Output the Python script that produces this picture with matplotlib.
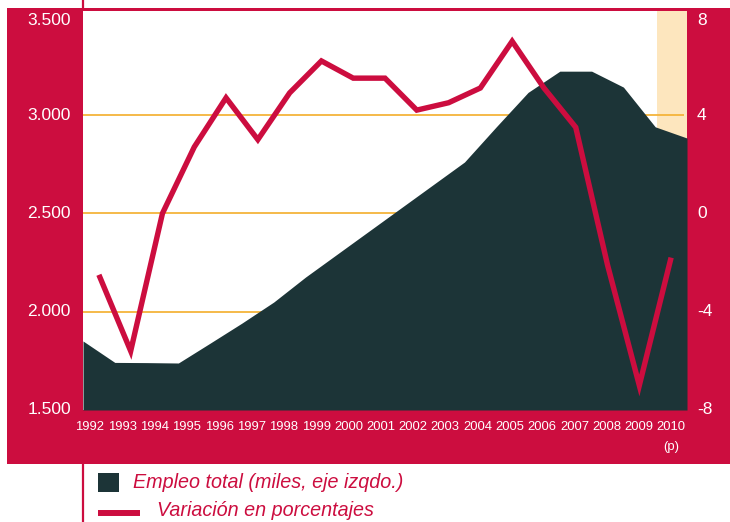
import matplotlib
matplotlib.use("Agg")
import matplotlib.pyplot as plt
import numpy as np
from matplotlib.patches import Rectangle
from matplotlib.lines import Line2D
from matplotlib.transforms import offset_copy, blended_transform_factory

# datos
anios = [str(a) for a in range(1992, 2011)]
variacion = [-2.5, -5.6, 0.0, 2.7, 4.7, 3.0, 4.9, 6.2, 5.5, 5.5,
             4.2, 4.5, 5.1, 7.0, 5.1, 3.5, -2.1, -7.0, -1.8]
# empleo total (miles), un valor en cada borde de año
empleo = [1851, 1742, 1741, 1739, 1840, 1942, 2049, 2176, 2293, 2410,
          2527, 2644, 2761, 2940, 3115, 3223, 3223, 3142, 2940, 2883]
ticks_izq = [1500, 2000, 2500, 3000, 3500]
ticks_der = [-8, -4, 0, 4, 8]
rejilla = [2000, 2500, 3000]

rojo = "#CC0D3F"
verde = "#1C3437"
naranja = "#FDE6BE"
oro = "#F5B43A"
familia = ["Liberation Sans", "DejaVu Sans"]

W, H = 730, 522
fig = plt.figure(figsize=(W / 100, H / 100), dpi=100)

# fondo rojo y linea vertical
fig.add_artist(Line2D([83 / W, 83 / W], [0, 1], transform=fig.transFigure,
                      color=rojo, lw=1.6, zorder=-3))
fig.add_artist(Rectangle((7 / W, 58 / H), 1, 456 / H, transform=fig.transFigure,
                         color=rojo, lw=0, zorder=-2))

ax = fig.add_axes([83 / W, 112 / H, 604 / W, 399 / H])
ax.set_xlim(-0.5, 18.5)
ax.set_ylim(1500, 3529)
for s in ax.spines.values():
    s.set_visible(False)

# prevision 2010
ax.axvspan(17.55, 18.5, color=naranja, lw=0, zorder=0)
ax.hlines(rejilla, -0.5, 18.4, color=oro, lw=1.3, zorder=1)

x_emp = np.arange(len(empleo)) - 0.5
ax.fill_between(x_emp, 1500, empleo, color=verde, lw=0, zorder=2)

etiquetas = anios[:-1] + [anios[-1] + "\n(p)"]
pos = np.arange(len(anios)) * 1.016 - 0.28
ax.set_xticks(pos, etiquetas)
ax.tick_params(axis="x", length=0, pad=8, labelcolor="white", labelsize=9.4)
for t in ax.get_xticklabels():
    t.set_family(familia)
    t.set_linespacing(1.9)
ax.set_yticks([])

ax2 = ax.twinx()
ax2.set_ylim(-8, -8 + (3529 - 1500) * 16 / 2000)
ax2.set_xlim(-0.5, 18.5)
for s in ax2.spines.values():
    s.set_visible(False)
ax2.set_yticks([])
ax2.plot(range(len(variacion)), variacion, color=rojo, lw=3.9,
         solid_joinstyle="miter", solid_capstyle="butt", zorder=3)

# etiquetas de los ejes
fuente = dict(family=familia, size=12.5, color="white")
tr_izq = blended_transform_factory(ax.transAxes, ax.transData)
tr_der = blended_transform_factory(ax2.transAxes, ax2.transData)
for v in ticks_izq:
    dy = -4 if v == ticks_izq[-1] else 0
    ax.text(0, v, f"{v:,}".replace(",", "."), ha="right", va="center",
            transform=offset_copy(tr_izq, fig, x=-12, y=dy, units="dots"),
            clip_on=False, **fuente)
for v in ticks_der:
    dy = -4 if v == ticks_der[-1] else 0
    ax2.text(1, v, str(v), ha="left", va="center",
             transform=offset_copy(tr_der, fig, x=10, y=dy, units="dots"),
             clip_on=False, **fuente)

# leyenda
fig.add_artist(Rectangle((98 / W, 30 / H), 21 / W, 19 / H,
                         transform=fig.transFigure, color=verde, lw=0))
fig.text(133 / W, 39 / H, "Empleo total (miles, eje izqdo.)", color=rojo,
         style="italic", family=familia, size=14.2, va="center")
fig.add_artist(Line2D([98 / W, 140 / W], [9 / H, 9 / H], transform=fig.transFigure,
                      color=rojo, lw=4.3, solid_capstyle="butt"))
fig.text(157 / W, 11 / H, "Variación en porcentajes", color=rojo,
         style="italic", family=familia, size=14.2, va="center")

fig.savefig("out.png", dpi=100)
